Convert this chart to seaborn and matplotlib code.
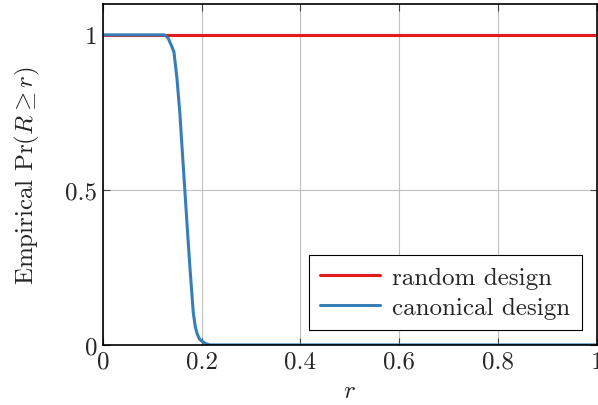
import pandas as pd
import matplotlib.pyplot as plt
import seaborn as sns

# data
r_random = [0.0, 0.25, 0.5, 0.75, 1.0]
p_random = [1.0, 1.0, 1.0, 1.0, 1.0]

r_canon = [0.0, 0.05, 0.10, 0.125, 0.132, 0.139, 0.144, 0.150, 0.156, 0.161, 0.166,
           0.171, 0.176, 0.180, 0.183, 0.187, 0.191, 0.196, 0.203, 0.210, 0.217,
           0.3, 0.5, 0.75, 1.0]
p_canon = [1.0, 1.0, 1.0, 1.0, 0.99, 0.965, 0.944, 0.86, 0.745, 0.62, 0.498,
           0.375, 0.256, 0.17, 0.105, 0.06, 0.035, 0.018, 0.009, 0.003, 0.0,
           0.0, 0.0, 0.0, 0.0]

df = pd.concat([
    pd.DataFrame({'r': r_random, 'p': p_random, 'design': 'random design'}),
    pd.DataFrame({'r': r_canon, 'p': p_canon, 'design': 'canonical design'}),
])

sns.set_style('white')
plt.rcParams['font.family'] = ['cmr10', 'DejaVu Serif']
plt.rcParams['mathtext.fontset'] = 'cm'
plt.rcParams['axes.formatter.use_mathtext'] = True

fs = 18

fig = plt.figure(figsize=(5.98, 4.06), dpi=100)
ax = fig.add_axes([0.172, 0.148, 0.826, 0.840])

sns.lineplot(data=df, x='r', y='p', hue='design', sort=False,
             palette={'random design': '#e41a1c', 'canonical design': '#377eb8'},
             linewidth=2.2, ax=ax)

ax.set_xlim(0, 1)
ax.set_ylim(0, 1.1)
ax.set_xticks([0, 0.2, 0.4, 0.6, 0.8, 1])
ax.set_xticklabels(['0', '0.2', '0.4', '0.6', '0.8', '1'])
ax.set_yticks([0, 0.5, 1])
ax.set_yticklabels(['0', '0.5', '1'])
ax.grid(True, color='#c0c0c0', linewidth=0.8)
ax.tick_params(direction='in', length=5, width=0.8, labelsize=fs, color='#444444',
               top=True, right=True, bottom=True, left=True, pad=4)
for s in ax.spines.values():
    s.set_color('black')
    s.set_linewidth(1.2)

ax.set_xlabel('$r$', fontsize=fs, labelpad=5)
ax.set_ylabel(r'Empirical $\Pr(R \geq r)$', fontsize=fs, labelpad=17)

leg = ax.legend(loc='lower right', fontsize=fs, frameon=True, fancybox=False,
                edgecolor='black', borderaxespad=0.6, handlelength=2.4,
                labelspacing=0.3, borderpad=0.45, handletextpad=0.5)
leg.get_frame().set_linewidth(0.8)
leg.get_frame().set_alpha(1)

fig.savefig('out.png', dpi=100)
